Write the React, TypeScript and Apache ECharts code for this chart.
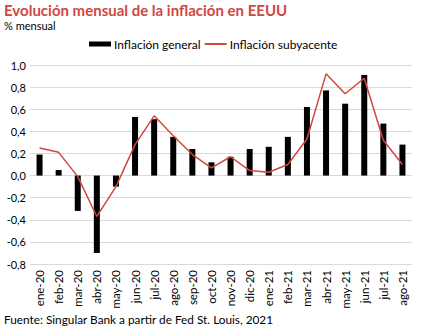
import React, { useEffect, useRef } from "react";
import * as echarts from "echarts";

const categories = ["ene-20","feb-20","mar-20","abr-20","may-20","jun-20","jul-20","ago-20","sep-20","oct-20","nov-20","dic-20","ene-21","feb-21","mar-21","abr-21","may-21","jun-21","jul-21","ago-21"];
const general = [0.19,0.05,-0.32,-0.70,-0.10,0.53,0.51,0.35,0.24,0.12,0.17,0.24,0.26,0.35,0.62,0.77,0.65,0.91,0.47,0.28];
const subyacente = [0.25,0.21,-0.01,-0.37,-0.10,0.28,0.54,0.36,0.19,0.07,0.17,0.045,0.03,0.10,0.33,0.92,0.74,0.88,0.32,0.10];

const RED = "#d0473f";
const FONT = "Lato";

export default function App() {
  const ref = useRef<HTMLDivElement>(null);
  useEffect(() => {
    const chart = echarts.init(ref.current!, null, { renderer: "svg" });
    chart.setOption({
      animation: false,
      textStyle: { fontFamily: FONT },
      title: [
        { text: "Evolución mensual de la inflación en EEUU", left: 4, top: 2, padding: 0, textStyle: { color: RED, fontSize: 15, fontWeight: "bold", fontFamily: FONT } },
        { text: "% mensual", left: 4, top: 20, padding: 0, textStyle: { color: "#000", fontSize: 11, fontWeight: "normal", fontFamily: FONT } },
        { text: "Fuente: Singular Bank a partir de Fed St. Louis, 2021", left: 4, top: 313, padding: 0, textStyle: { color: "#000", fontSize: 11.8, fontWeight: "normal", fontFamily: FONT } },
      ],
      legend: {
        top: 38, left: 89, padding: 0, itemGap: 4, itemWidth: 22, itemHeight: 5,
        textStyle: { fontSize: 12, color: "#000", fontFamily: FONT, padding: [0, 0, 0, -2] },
        data: [
          { name: "Inflación general", icon: "rect", itemStyle: { color: "#000" } },
          { name: "Inflación subyacente", icon: "path://M0,0 L22,0 L22,2 L0,2 Z", itemStyle: { color: RED } },
        ],
      },
      grid: { left: 30, right: 10, top: 65, bottom: 67, containLabel: false },
      xAxis: {
        type: "category", data: categories,
        axisLine: { show: false }, axisTick: { show: false },
        axisLabel: { rotate: 90, fontSize: 11.5, color: "#000", margin: 6, interval: 0, fontFamily: FONT },
      },
      yAxis: {
        type: "value", min: -0.8, max: 1.0, interval: 0.2,
        axisLine: { show: false }, axisTick: { show: false },
        splitLine: { lineStyle: { color: "#d9d9d9", width: 1 } },
        axisLabel: { fontSize: 11, color: "#000", margin: 4, fontFamily: FONT, formatter: (v: number) => v.toFixed(1).replace(".", ",") },
      },
      series: [
        { name: "Inflación general", type: "bar", data: general, barWidth: 6, itemStyle: { color: "#000" } },
        { name: "Inflación subyacente", type: "line", data: subyacente, symbol: "none", lineStyle: { color: RED, width: 1.5 }, itemStyle: { color: RED } },
      ],
    });
    return () => chart.dispose();
  }, []);
  return <div ref={ref} style={{ width: 422, height: 331, position: "absolute", left: 0, top: 0 }} />;
}
